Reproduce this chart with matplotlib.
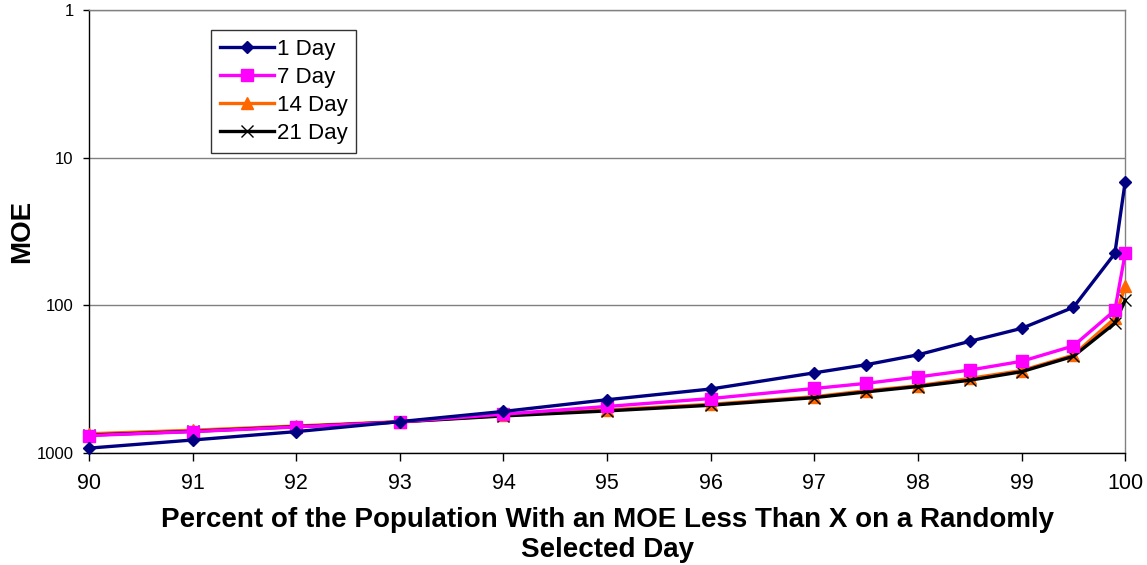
import matplotlib
matplotlib.use("Agg")
import matplotlib.pyplot as plt
from matplotlib.ticker import FixedLocator, FixedFormatter, NullLocator

plt.rcParams['font.family'] = ['Liberation Sans', 'DejaVu Sans']

# Percentile of the population (x) and MOE for each averaging window
percentile = [90, 91, 92, 93, 94, 95, 96, 97, 97.5, 98, 98.5, 99, 99.5, 99.9, 100]
moe_1day = [925, 815, 715, 612, 522, 435, 368, 286, 252, 216, 175, 143, 103, 44.5, 14.5]
moe_7day = [760, 715, 665, 615, 545, 483, 427, 365, 337, 305, 274, 239, 188, 108, 44.3]
moe_14day = [740, 700, 655, 612, 556, 510, 467, 415, 378, 350, 312, 276, 217, 122, 74]
moe_21day = [755, 712, 662, 615, 560, 518, 474, 421, 385, 354, 321, 281, 221, 132, 92]

x_ticks = [90, 91, 92, 93, 94, 95, 96, 97, 98, 99, 100]
y_ticks = [1, 10, 100, 1000]
y_tick_labels = ["1", "10", "100", "1000"]

fig = plt.figure(figsize=(11.47, 5.65), dpi=100)
ax = fig.add_axes([0.0776, 0.198, 0.9034, 0.7843])

ax.plot(percentile, moe_1day, color='#000080', lw=2.4, marker='D', ms=6.5,
        label='1 Day', zorder=5, clip_on=False)
ax.plot(percentile, moe_7day, color='#FF00FF', lw=2.4, marker='s', ms=8.5,
        label='7 Day', zorder=4, clip_on=False)
ax.plot(percentile, moe_14day, color='#FF6600', lw=2.4, marker='^', ms=8.5,
        label='14 Day', zorder=3, clip_on=False)
ax.plot(percentile, moe_21day, color='#000000', lw=2.4, marker='x', ms=8.5,
        mew=1.0, label='21 Day', zorder=3.5, clip_on=False)

ax.set_yscale('log')
ax.set_ylim(1000, 1)
ax.set_xlim(90, 100)
ax.yaxis.set_major_locator(FixedLocator(y_ticks))
ax.yaxis.set_major_formatter(FixedFormatter(y_tick_labels))
ax.yaxis.set_minor_locator(NullLocator())
ax.set_xticks(x_ticks)
ax.set_xticklabels([str(t) for t in x_ticks])

ax.grid(axis='y', color='#808080', lw=1.0)
ax.set_axisbelow(True)
for side in ('top', 'right'):
    ax.spines[side].set_color('#808080')
    ax.spines[side].set_linewidth(1.0)
for side in ('left', 'bottom'):
    ax.spines[side].set_color('black')
    ax.spines[side].set_linewidth(1.0)

ax.tick_params(axis='x', direction='out', length=6, width=1, labelsize=15.5, pad=8)
ax.tick_params(axis='y', direction='out', length=4, width=1, labelsize=12, pad=7)

ax.set_xlabel('Percent of the Population With an MOE Less Than X on a Randomly\nSelected Day',
              fontsize=20, fontweight='bold', labelpad=10, linespacing=1.2)
ax.set_ylabel('MOE', fontsize=20, fontweight='bold')
ax.yaxis.set_label_coords(-0.052, 0.5)

leg = ax.legend(loc='upper left', bbox_to_anchor=(0.118, 0.955), fontsize=16,
                frameon=True, fancybox=False, edgecolor='black', handlelength=2.4,
                handletextpad=0.15, borderpad=0.4, labelspacing=0.32, borderaxespad=0)
leg.get_frame().set_linewidth(1.0)

fig.savefig('out.png', dpi=100)
